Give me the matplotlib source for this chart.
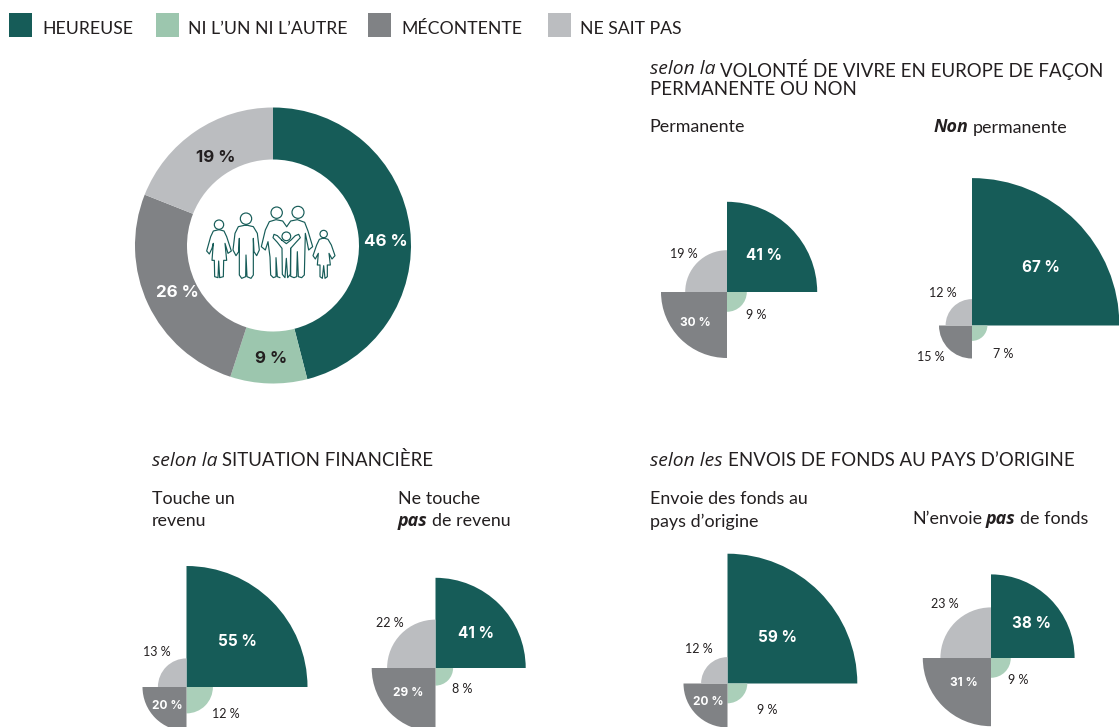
import matplotlib
matplotlib.use('Agg')
import matplotlib.pyplot as plt
from matplotlib.patches import Wedge, Rectangle, Circle

W, H = 1119, 727
plt.rcParams['font.family'] = ['Lato', 'DejaVu Sans']

DARK_GREEN = '#165c58'
LIGHT_GREEN = '#9cc6ae'
PALE_GREEN = '#aacfb9'
DARK_GREY = '#808285'
LIGHT_GREY = '#bbbdc0'
INK = '#231f20'

# données
categories = ['HEUREUSE', 'NI L\u2019UN NI L\u2019AUTRE', 'MÉCONTENTE', 'NE SAIT PAS']
total = [46, 9, 26, 19]
permanente = [41, 9, 30, 19]
non_permanente = [67, 7, 15, 12]
revenu = [55, 12, 20, 13]
sans_revenu = [41, 8, 29, 22]
envoie = [59, 9, 20, 12]
sans_envoi = [38, 9, 31, 23]

# pixels par point de pourcentage
RADIUS_SCALE = 2.2

fig = plt.figure(figsize=(W / 100, H / 100), dpi=100)
ax = fig.add_axes([0, 0, 1, 1])


def Y(py):
    return H - py


def runs(x, py, parts, size=12.9, color=INK):
    # plusieurs styles sur une meme ligne
    r = fig.canvas.get_renderer()
    for s, emph in parts:
        if emph:
            t = ax.text(x, Y(py), s, fontsize=size, color=color, style='italic', weight='bold',
                        family=['Open Sans', 'DejaVu Sans'], va='center', ha='left')
        else:
            t = ax.text(x, Y(py), s, fontsize=size, color=color, va='center', ha='left')
        x += t.get_window_extent(r).width + size * 0.3


def heading(x, py, intro, caps):
    # "selon la" en italique large, puis capitales
    r = fig.canvas.get_renderer()
    t = ax.text(x, Y(py), intro, fontsize=13.9, color=INK, style='italic',
                family=['Open Sans', 'DejaVu Sans'], va='center', ha='left')
    x += t.get_window_extent(r).width + 5
    ax.text(x, Y(py), caps, fontsize=13.4, color=INK, va='center', ha='left')


def pct(v, px, py, bold=False, color=INK, size=9):
    if bold:
        ax.text(px, Y(py), f'{v} %', fontsize=size, color=color, ha='center', va='center',
                weight='bold', family=['Inter', 'DejaVu Sans'])
    else:
        ax.text(px, Y(py), f'{v} %', fontsize=size, color=color, ha='center', va='center')


def quadrants(cx, cy, vals, label_pos, bold_flags):
    # rayon proportionnel a la valeur
    angles = [(0, 90), (270, 360), (180, 270), (90, 180)]
    cols = [DARK_GREEN, PALE_GREEN, DARK_GREY, LIGHT_GREY]
    for v, (a, b), c in zip(vals, angles, cols):
        ax.add_patch(Wedge((cx, Y(cy)), v * RADIUS_SCALE, a, b, fc=c, lw=0))
    for i, (v, p) in enumerate(zip(vals, label_pos)):
        if i == 0:
            pct(v, p[0], p[1], True, 'white', 11)
        elif bold_flags[i]:
            pct(v, p[0], p[1], True, 'white', 8.6)
        else:
            pct(v, p[0], p[1], False, INK, 9)


# legende
for c, name, sx, tx in zip([DARK_GREEN, LIGHT_GREEN, DARK_GREY, LIGHT_GREY], categories,
                           [9, 156, 368, 548], [42, 188, 401, 579.5]):
    ax.add_patch(Rectangle((sx, Y(37)), 23, 24, fc=c, lw=0))
    ax.text(tx, Y(29.5), name, fontsize=12.7, color=INK, va='center', ha='left')

# anneau principal
ax.pie(total, colors=[DARK_GREEN, LIGHT_GREEN, DARK_GREY, LIGHT_GREY], startangle=90,
       counterclock=False, center=(273, Y(245.5)), radius=138, frame=True,
       wedgeprops=dict(width=52, lw=0))
for v, p, c in zip(total, [(385.5, 241.5), (271, 358.5), (177, 292.5), (216, 157.5)],
                   ['white', INK, 'white', INK]):
    pct(v, p[0], p[1], True, c, 12.2)


# pictogramme de la famille (coordonnees du dessin, pas des donnees)
def icon_line(pts):
    ax.plot([190 + p[0] / 3 for p in pts], [Y(195 + p[1] / 3) for p in pts], color=DARK_GREEN,
            lw=0.85, solid_joinstyle='round', solid_capstyle='round')


def icon_head(x, y, r):
    ax.add_patch(Circle((190 + x / 3, Y(195 + y / 3)), r / 3, fc='none', ec=DARK_GREEN, lw=0.85))


for h in [(87, 89, 14), (168, 71, 17), (260, 53, 17), (324, 52, 18), (289, 124, 13), (401, 117, 11)]:
    icon_head(*h)
# femme gauche
icon_line([(87, 104), (70, 108), (62, 125), (50, 168), (58, 177), (66, 160), (70, 145), (66, 196), (73, 196),
           (74, 245), (84, 248), (86, 198), (89, 248), (100, 245), (101, 196), (110, 196), (105, 145),
           (114, 175), (124, 168), (110, 125), (102, 108), (87, 104)])
# homme
icon_line([(168, 90), (145, 95), (135, 115), (129, 165), (138, 182), (146, 170), (148, 130), (148, 240),
           (155, 250), (167, 245), (168, 180), (171, 245), (183, 250), (190, 240), (190, 130), (192, 170),
           (200, 182), (208, 165), (202, 115), (190, 95), (168, 90)])
# couple
icon_line([(290, 95), (278, 78), (258, 74), (238, 80), (226, 105), (214, 155), (226, 165), (234, 140),
           (240, 186), (242, 240), (250, 248), (258, 245), (258, 188), (262, 245), (270, 248)])
icon_line([(290, 95), (302, 78), (322, 74), (344, 82), (354, 108), (368, 155), (356, 165), (346, 115),
           (343, 240), (335, 248), (325, 245), (322, 170), (320, 245), (312, 248), (302, 244), (302, 160)])
# enfant
icon_line([(275, 135), (262, 122), (252, 118), (249, 128), (262, 142), (276, 160), (277, 238), (285, 248),
           (289, 190), (293, 248), (301, 238), (302, 160), (318, 142), (331, 128), (326, 118), (316, 122), (303, 135),
           (289, 146), (275, 135)])
# fille droite
icon_line([(401, 129), (388, 133), (380, 150), (369, 182), (376, 192), (385, 175), (382, 210), (390, 210),
           (390, 245), (397, 250), (401, 212), (405, 250), (412, 245), (412, 210), (421, 210), (417, 175),
           (426, 192), (435, 182), (424, 150), (414, 133), (401, 129)])

# titres
heading(650, 69.5, 'selon la', 'VOLONTÉ DE VIVRE EN EUROPE DE FAÇON')
ax.text(650, Y(89.5), 'PERMANENTE OU NON', fontsize=13.4, color=INK, va='center', ha='left')
runs(649.5, 127.5, [('Permanente', False)])
runs(934, 127.5, [('Non', True), ('permanente', False)])

heading(152, 460.5, 'selon la', 'SITUATION FINANCIÈRE')
runs(151.5, 499.5, [('Touche un', False)])
runs(151.5, 521.5, [('revenu', False)])
runs(398, 499.5, [('Ne touche', False)])
runs(398, 521.5, [('pas', True), ('de revenu', False)])

heading(650, 460.5, 'selon les', 'ENVOIS DE FONDS AU PAYS D\u2019ORIGINE')
runs(649.5, 499.5, [('Envoie des fonds au', False)])
runs(649.5, 521.5, [('pays d\u2019origine', False)])
runs(912, 518.5, [('N\u2019envoie', False), ('pas', True), ('de fonds', False)])

# quarts de disque
quadrants(727, 292, permanente, [(764, 256), (756, 315), (695, 323), (684, 254)], [1, 0, 1, 0])
quadrants(972, 325.5, non_permanente, [(1041, 268), (1003, 354), (931, 357), (943, 293)], [1, 0, 0, 0])
quadrants(186.5, 687, revenu, [(237, 641), (226, 714), (167, 706), (157, 652)], [1, 0, 1, 0])
quadrants(435.5, 668, sans_revenu, [(476, 633), (462, 689), (408, 693), (390, 623)], [1, 0, 1, 0])
quadrants(727.5, 683.5, envoie, [(778, 638), (767, 710), (708, 702), (699, 649)], [1, 0, 1, 0])
quadrants(991, 658, sans_envoi, [(1032, 623), (1018, 680), (964, 683), (945, 604)], [1, 0, 1, 0])

ax.set_xlim(0, W)
ax.set_ylim(0, H)
ax.set_aspect('auto')
ax.axis('off')

fig.savefig('out.png', dpi=100, facecolor='white')
